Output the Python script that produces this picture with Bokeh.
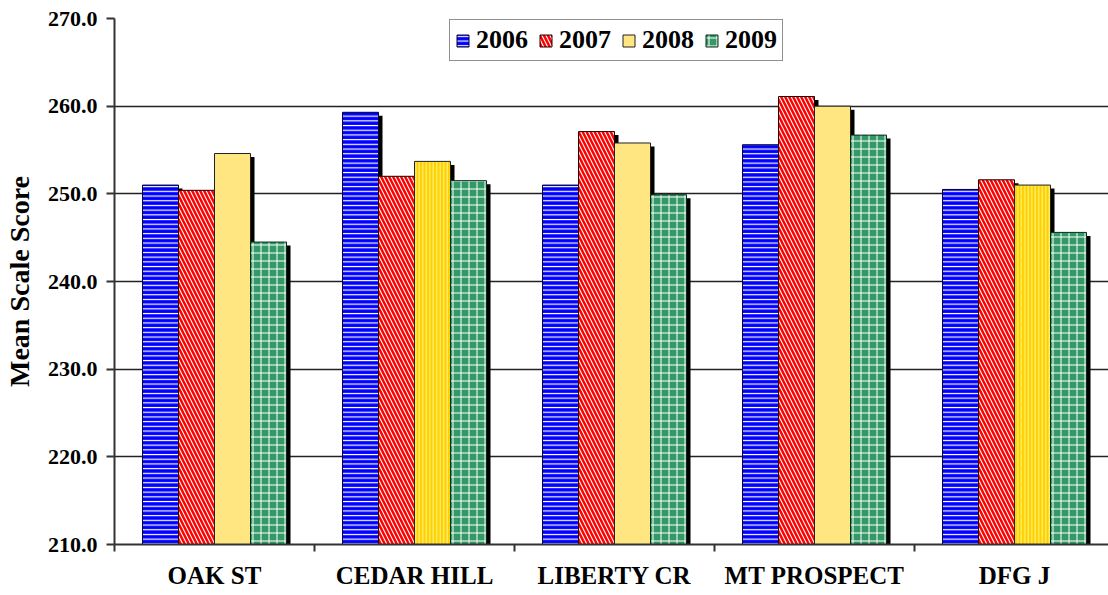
import numpy as np
from bokeh.plotting import figure
from bokeh.models import (ColumnDataSource, Range1d, FixedTicker, PrintfTickFormatter,
                          Legend, LegendItem, CDSView, IndexFilter)
from bokeh.transform import dodge
from bokeh.embed import file_html
from bokeh.resources import INLINE

categories = ["OAK ST", "CEDAR HILL", "LIBERTY CR", "MT PROSPECT", "DFG J"]
years = ["2006", "2007", "2008", "2009"]
v2006 = [251.0, 259.3, 251.0, 255.6, 250.5]
v2007 = [250.4, 252.0, 257.1, 261.1, 251.6]
v2008 = [254.6, 253.7, 255.8, 260.0, 251.0]
v2009 = [244.5, 251.5, 249.9, 256.7, 245.6]
y_ticks = [210, 220, 230, 240, 250, 260, 270]
Y_MIN, Y_MAX = 210, 270
striped_2008 = ["CEDAR HILL", "DFG J"]   # these 2008 bars are drawn with stripes

FONT = "Liberation Serif"
centers = list(np.arange(len(categories)) + 0.5)
bounds = list(np.arange(len(categories) + 1))

src = ColumnDataSource(dict(x=centers, cat=categories,
                            v2006=v2006, v2007=v2007, v2008=v2008, v2009=v2009,
                            s2006=[v - 0.4 for v in v2006], s2007=[v - 0.4 for v in v2007],
                            s2008=[v - 0.4 for v in v2008], s2009=[v - 0.4 for v in v2009]))

p = figure(frame_width=996, frame_height=526, min_border_left=112, min_border_top=18,
           min_border_right=0, min_border_bottom=10,
           x_range=Range1d(0, len(categories) - 0.02), y_range=Range1d(Y_MIN, Y_MAX),
           output_backend="svg", toolbar_location=None)

BW = 0.18
offsets = [-0.27, -0.09, 0.09, 0.27]
SH = 0.02

# shadows first
for yr, off in zip(years, offsets):
    p.vbar(x=dodge("x", off + SH), top="s" + yr, bottom=Y_MIN, width=BW, source=src,
           fill_color="black", line_color=None)

r06 = p.vbar(x=dodge("x", offsets[0]), top="v2006", bottom=Y_MIN, width=BW, source=src,
             fill_color="#0000FF", line_color="#000033", line_width=1,
             hatch_pattern="horizontal_line", hatch_color="white", hatch_scale=4.7, hatch_weight=1.2)
r07 = p.vbar(x=dodge("x", offsets[1]), top="v2007", bottom=Y_MIN, width=BW, source=src,
             fill_color="#FF0000", line_color="#220000", line_width=1,
             hatch_pattern="left_diagonal_line", hatch_color="white", hatch_scale=8, hatch_weight=1.1)
plain_idx = [i for i, c in enumerate(categories) if c not in striped_2008]
strip_idx = [i for i, c in enumerate(categories) if c in striped_2008]
r08 = p.vbar(x=dodge("x", offsets[2]), top="v2008", bottom=Y_MIN, width=BW, source=src,
             view=CDSView(filter=IndexFilter(plain_idx)),
             fill_color="#FFE680", line_color="#222222", line_width=1)
p.vbar(x=dodge("x", offsets[2]), top="v2008", bottom=Y_MIN, width=BW, source=src,
       view=CDSView(filter=IndexFilter(strip_idx)),
       fill_color="#FFD000", line_color="#222222", line_width=1,
       hatch_pattern="vertical_line", hatch_color="#FFF27A", hatch_scale=3.5, hatch_weight=1.2)
r09 = p.vbar(x=dodge("x", offsets[3]), top="v2009", bottom=Y_MIN, width=BW, source=src,
             fill_color="#339966", line_color="#0A2A1A", line_width=1,
             hatch_pattern="cross", hatch_color="white", hatch_scale=8, hatch_weight=1)

# axes
p.xaxis.ticker = FixedTicker(ticks=centers, minor_ticks=bounds)
p.xaxis.major_label_overrides = {c: n for c, n in zip(centers, categories)}
p.xaxis.major_tick_line_color = None
p.xaxis.minor_tick_out = 7
p.xaxis.minor_tick_in = 0
p.xaxis.minor_tick_line_color = "#333333"
p.xaxis.minor_tick_line_width = 2
p.xaxis.axis_line_color = "#333333"
p.xaxis.axis_line_width = 2
p.xaxis.major_label_standoff = 10
p.xaxis.major_label_text_font = FONT
p.xaxis.major_label_text_font_style = "bold"
p.xaxis.major_label_text_font_size = "25px"
p.xaxis.major_label_text_color = "black"

p.yaxis.ticker = FixedTicker(ticks=y_ticks)
p.yaxis.formatter = PrintfTickFormatter(format="%.1f")
p.yaxis.major_tick_out = 8
p.yaxis.major_tick_in = 0
p.yaxis.major_tick_line_color = "#333333"
p.yaxis.major_tick_line_width = 2
p.yaxis.minor_tick_line_color = None
p.yaxis.axis_line_color = "#333333"
p.yaxis.axis_line_width = 2
p.yaxis.major_label_standoff = 9
p.yaxis.major_label_text_font = FONT
p.yaxis.major_label_text_font_style = "bold"
p.yaxis.major_label_text_font_size = "22px"
p.yaxis.major_label_text_color = "black"
p.yaxis.axis_label = "Mean Scale Score"
p.yaxis.axis_label_text_font = FONT
p.yaxis.axis_label_text_font_style = "bold"
p.yaxis.axis_label_text_font_size = "28px"
p.yaxis.axis_label_standoff = 10
p.yaxis.axis_label_text_color = "black"

p.xgrid.grid_line_color = None
p.ygrid.ticker = FixedTicker(ticks=y_ticks)
p.ygrid.grid_line_color = "#222222"
p.ygrid.grid_line_width = 1.5
p.outline_line_color = None

legend = Legend(items=[LegendItem(label=years[0], renderers=[r06]),
                       LegendItem(label=years[1], renderers=[r07]),
                       LegendItem(label=years[2], renderers=[r08]),
                       LegendItem(label=years[3], renderers=[r09])],
                orientation="horizontal", location=(335, 483))
legend.label_text_font = FONT
legend.label_text_font_style = "bold"
legend.label_text_font_size = "26px"
legend.label_text_color = "black"
legend.glyph_width = 15
legend.glyph_height = 15
legend.label_standoff = 6
legend.spacing = 10
legend.padding = 5
legend.margin = 0
legend.border_line_color = "#222222"
legend.border_line_width = 1.5
legend.background_fill_alpha = 1
p.add_layout(legend)

open("out.html", "w").write(file_html(p, INLINE))
